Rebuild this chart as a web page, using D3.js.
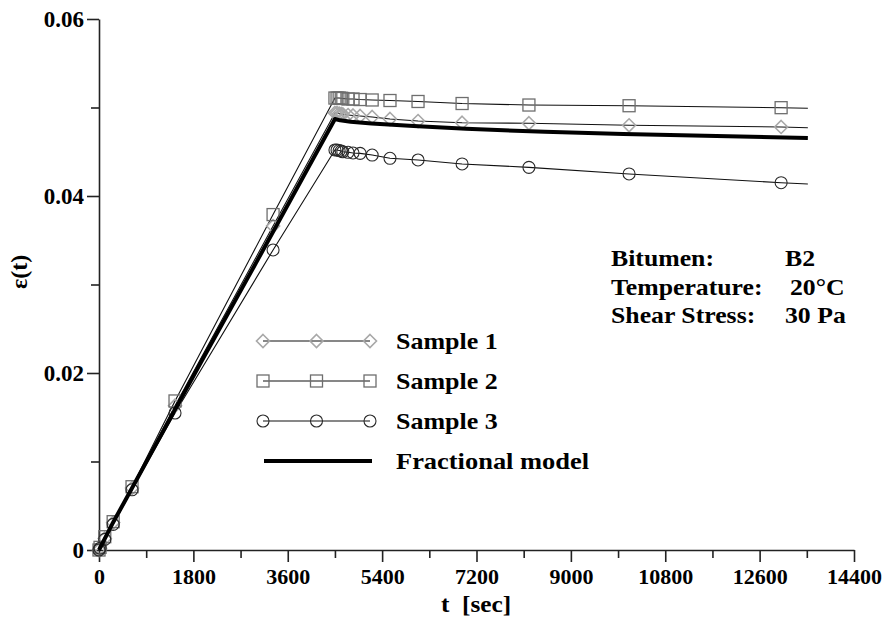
<!DOCTYPE html>
<html>
<head>
<meta charset="utf-8">
<script src="https://cdn.jsdelivr.net/npm/d3@7"></script>
<style>
  html, body { margin: 0; padding: 0; background: #fff; }
  svg { display: block; }
  text { font-family: "Liberation Serif", "Times New Roman", serif; font-weight: bold; fill: #000; }
</style>
</head>
<body>
<svg id="chart" width="887" height="622"></svg>
<script>
// ---------- DATA ----------
const loadTimes = [0, 20, 110, 270, 630, 1450, 3320, 4500];
const holdTimes = [4540, 4580, 4620, 4650, 4750, 4845, 4980, 5210, 5550, 6085, 6925, 8200, 10110, 13010, 13520];

const sample1Load = [0, 0.0002, 0.0013, 0.0031, 0.0070, 0.0163, 0.0366, 0.04938];
const sample2Load = [0, 0.0003, 0.0015, 0.0032, 0.00715, 0.01684, 0.0379, 0.05107];
const sample3Load = [0, 0.0002, 0.0012, 0.0029, 0.0068, 0.01548, 0.0339, 0.04520];

const sample1Hold = [0.04938, 0.04932, 0.04927, 0.04923, 0.04915, 0.04910, 0.04904, 0.04893, 0.04870, 0.04847, 0.04828, 0.04822, 0.04799, 0.04780, 0.04772];
const sample2Hold = [0.05107, 0.05107, 0.05104, 0.05102, 0.05096, 0.05096, 0.05090, 0.05085, 0.05079, 0.05068, 0.05045, 0.05028, 0.05020, 0.04998, 0.04991];
const sample3Hold = [0.04520, 0.04514, 0.04508, 0.04500, 0.04494, 0.04486, 0.04482, 0.04463, 0.04426, 0.04407, 0.04362, 0.04324, 0.04249, 0.04150, 0.04136];

const modelTimes  = [0, 250, 500, 1000, 2000, 3000, 4000, 4500, 4600, 4800, 5200, 6000, 7000, 8500, 10000, 12000, 13520];
const modelValues = [0, 0.0029, 0.0056, 0.0110, 0.0218, 0.0325, 0.0433, 0.0487, 0.04855, 0.0484, 0.0482, 0.0479, 0.0476, 0.04725, 0.0470, 0.04675, 0.04655];

const xTicks = [0, 1800, 3600, 5400, 7200, 9000, 10800, 12600, 14400];
const xMinorTicks = [900, 2700, 4500, 6300, 8100, 9900, 11700, 13500];
const yTicks = [0, 0.02, 0.04, 0.06];
const yTickLabels = ["0", "0.02", "0.04", "0.06"];
const yMinorTicks = [0.01, 0.03, 0.05];

const legendLabels = ["Sample 1", "Sample 2", "Sample 3", "Fractional model"];
const infoLabels = ["Bitumen:", "Temperature:", "Shear Stress:"];
const infoValues = ["B2", "20°C", "30 Pa"];

// ---------- SETUP ----------
const svg = d3.select("#chart");
const x = d3.scaleLinear().domain([0, 14400]).range([99, 854]);
const y = d3.scaleLinear().domain([0, 0.06]).range([550, 19]);

const series = [
  { name: legendLabels[0], times: loadTimes.concat(holdTimes), values: sample1Load.concat(sample1Hold), marker: "diamond", color: "#a8a8a8" },
  { name: legendLabels[1], times: loadTimes.concat(holdTimes), values: sample2Load.concat(sample2Hold), marker: "square", color: "#6e6e6e" },
  { name: legendLabels[2], times: loadTimes.concat(holdTimes), values: sample3Load.concat(sample3Hold), marker: "circle", color: "#2a2a2a" }
];

function drawMarker(g, type, cx, cy, color) {
  if (type === "diamond") {
    g.append("path").attr("d", `M${cx},${cy-6.5}L${cx+6.5},${cy}L${cx},${cy+6.5}L${cx-6.5},${cy}Z`)
      .attr("fill", "none").attr("stroke", color).attr("stroke-width", 1.6);
  } else if (type === "square") {
    g.append("rect").attr("x", cx-6).attr("y", cy-6).attr("width", 12).attr("height", 12)
      .attr("fill", "none").attr("stroke", color).attr("stroke-width", 1.3);
  } else {
    g.append("circle").attr("cx", cx).attr("cy", cy).attr("r", 6)
      .attr("fill", "none").attr("stroke", color).attr("stroke-width", 1.1);
  }
}

function addText(px, py, str, size, sx, anchor) {
  return svg.append("text")
    .attr("transform", `translate(${px},${py}) scale(${sx},1)`)
    .attr("font-size", size)
    .attr("text-anchor", anchor || "start")
    .attr("xml:space", "preserve")
    .text(str);
}

// ---------- AXES ----------
const axisColor = "#222";
const xAxis = svg.append("g").attr("transform", "translate(0,550)")
  .call(d3.axisBottom(x).tickValues(xTicks).tickSize(12).tickSizeOuter(0).tickFormat(d3.format("d")).tickPadding(6));
svg.append("g").attr("transform", "translate(0,550)")
  .call(d3.axisBottom(x).tickValues(xMinorTicks).tickSize(8).tickSizeOuter(0).tickFormat(""))
  .select(".domain").remove();
xAxis.selectAll("text").attr("font-size", 22).attr("font-family", "Liberation Serif").attr("font-weight", "bold").attr("fill", "#000");

const yAxis = svg.append("g").attr("transform", "translate(99,0)")
  .call(d3.axisLeft(y).tickValues(yTicks).tickSize(12).tickSizeOuter(0).tickFormat((d, i) => yTickLabels[i]).tickPadding(3));
svg.append("g").attr("transform", "translate(99,0)")
  .call(d3.axisLeft(y).tickValues(yMinorTicks).tickSize(8).tickSizeOuter(0).tickFormat(""))
  .select(".domain").remove();
yAxis.selectAll("text").attr("font-size", 23).attr("font-family", "Liberation Serif").attr("font-weight", "bold").attr("fill", "#000");

svg.selectAll(".domain, .tick line").attr("stroke", axisColor).attr("stroke-width", 1.6);

// axis titles
addText(476, 612, "t  [sec]", 23, 1.1, "middle");
svg.append("text").attr("transform", "translate(27,272) rotate(-90)").attr("text-anchor", "middle").attr("font-size", 24)
  .text("ε(t)");

// ---------- SERIES ----------
const line = d3.line().x(d => x(d[0])).y(d => y(d[1]));
const plot = svg.append("g");

series.forEach(s => {
  const pts = s.times.map((t, i) => [t, s.values[i]]);
  plot.append("path").attr("d", line(pts)).attr("fill", "none").attr("stroke", "#111").attr("stroke-width", 1.1);
});
series.forEach(s => {
  const g = plot.append("g");
  // markers on all points except the final line end
  s.times.slice(0, -1).forEach((t, i) => drawMarker(g, s.marker, x(t), y(s.values[i]), s.color));
});

plot.append("path").attr("d", line(modelTimes.map((t, i) => [t, modelValues[i]])))
  .attr("fill", "none").attr("stroke", "#000").attr("stroke-width", 4).attr("stroke-linejoin", "round");

// ---------- LEGEND ----------
const legend = svg.append("g");
const legY = [341, 381, 421, 461];
const legX = [263, 316.5, 370];
series.forEach((s, i) => {
  legend.append("line").attr("x1", legX[0]).attr("x2", legX[2]).attr("y1", legY[i]).attr("y2", legY[i])
    .attr("stroke", "#111").attr("stroke-width", 1.1);
  legX.forEach(lx => drawMarker(legend, s.marker, lx, legY[i], s.color));
  addText(396, legY[i] + 8, s.name, 23, 1.13);
});
legend.append("line").attr("x1", 264).attr("x2", 372).attr("y1", legY[3]).attr("y2", legY[3])
  .attr("stroke", "#000").attr("stroke-width", 4);
addText(396, legY[3] + 8, legendLabels[3], 23, 1.15);

// ---------- INFO BOX ----------
const infoY = [266, 294.5, 323];
const infoValX = [785, 790, 785];
infoLabels.forEach((lab, i) => {
  addText(611, infoY[i], lab, 23, 1.12);
  addText(infoValX[i], infoY[i], infoValues[i], 23, 1.12);
});
</script>
</body>
</html>
